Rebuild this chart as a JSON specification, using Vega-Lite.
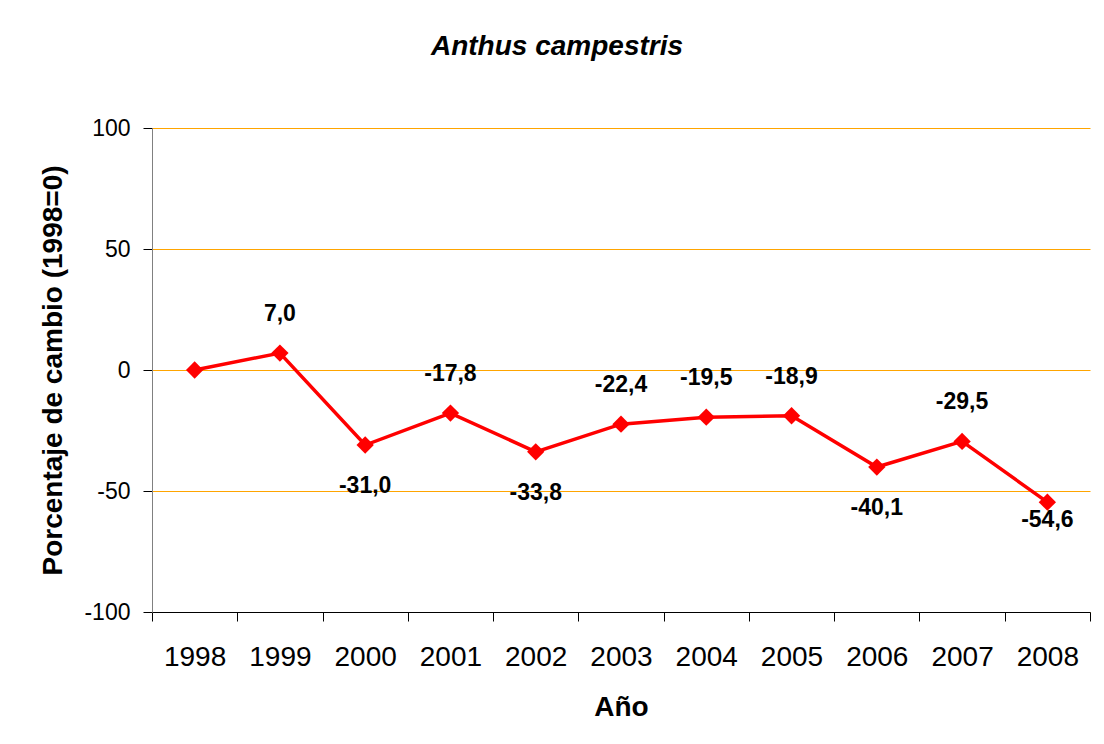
{
  "$schema": "https://vega.github.io/schema/vega-lite/v6.json",
  "width": 938,
  "height": 484,
  "autosize": {"type": "none"},
  "padding": {"left": 152, "top": 128, "right": 14, "bottom": 132},
  "background": "white",
  "config": {
    "font": "Liberation Sans",
    "view": {"stroke": null},
    "locale": {"number": {"decimal": ",", "thousands": ".", "grouping": [3], "currency": ["", " €"], "minus": "-"}}
  },
  "title": {
    "text": "Anthus campestris",
    "fontSize": 28,
    "fontStyle": "italic",
    "fontWeight": "bold",
    "font": "Liberation Sans",
    "color": "black",
    "anchor": "middle",
    "dx": -64,
    "offset": 34,
    "baseline": "alphabetic"
  },
  "data": {
    "values": [
      {"year": 1998, "value": 0.0},
      {"year": 1999, "value": 7.0},
      {"year": 2000, "value": -31.0},
      {"year": 2001, "value": -17.8},
      {"year": 2002, "value": -33.8},
      {"year": 2003, "value": -22.4},
      {"year": 2004, "value": -19.5},
      {"year": 2005, "value": -18.9},
      {"year": 2006, "value": -40.1},
      {"year": 2007, "value": -29.5},
      {"year": 2008, "value": -54.6}
    ]
  },
  "encoding": {
    "x": {
      "field": "year",
      "type": "quantitative",
      "scale": {"domain": [1997.5, 2008.5], "nice": false, "zero": false},
      "axis": {
        "title": "Año",
        "titleFontSize": 28,
        "titleFontWeight": "bold",
        "titleColor": "black",
        "titlePadding": 22,
        "values": [1997.5, 1998.5, 1999.5, 2000.5, 2001.5, 2002.5, 2003.5, 2004.5, 2005.5, 2006.5, 2007.5, 2008.5],
        "labelExpr": "datum.value < 2008 ? format(datum.value + 0.5, 'd') : ''",
        "labelOffset": 42.6,
        "labelFontSize": 28,
        "labelColor": "black",
        "labelPadding": 22,
        "labelFlush": false,
        "labelOverlap": false,
        "labelBound": false,
        "tickSize": 9,
        "tickColor": "black",
        "domainColor": "black",
        "grid": false
      }
    },
    "y": {
      "field": "value",
      "type": "quantitative",
      "scale": {"domain": [-100, 100], "nice": false},
      "axis": {
        "title": "Porcentaje de cambio (1998=0)",
        "titleFontSize": 28,
        "titleFontWeight": "bold",
        "titleColor": "black",
        "titlePadding": 16,
        "values": [-100, -50, 0, 50, 100],
        "labelFontSize": 23,
        "labelColor": "black",
        "labelPadding": 13,
        "labelFlush": false,
        "labelBound": false,
        "tickSize": 9,
        "tickColor": "black",
        "domainColor": "#808080",
        "grid": true,
        "gridColor": "#FFA500",
        "gridOpacity": 1,
        "gridWidth": 1
      }
    }
  },
  "layer": [
    {"mark": {"type": "line", "color": "#FF0000", "strokeWidth": 3.5}},
    {"mark": {"type": "point", "shape": "diamond", "filled": true, "color": "#FF0000", "size": 300, "opacity": 1}},
    {
      "transform": [{"filter": {"field": "year", "oneOf": [1999, 2001, 2003, 2004, 2005, 2007]}}],
      "mark": {"type": "text", "dy": -39, "fontSize": 23, "fontWeight": "bold", "color": "black", "baseline": "middle"},
      "encoding": {"text": {"field": "value", "type": "quantitative", "format": ".1f"}}
    },
    {
      "transform": [{"filter": {"field": "year", "oneOf": [2000, 2002, 2006]}}],
      "mark": {"type": "text", "dy": 41, "fontSize": 23, "fontWeight": "bold", "color": "black", "baseline": "middle"},
      "encoding": {"text": {"field": "value", "type": "quantitative", "format": ".1f"}}
    },
    {
      "transform": [{"filter": {"field": "year", "oneOf": [2008]}}],
      "mark": {"type": "text", "dy": 18, "fontSize": 23, "fontWeight": "bold", "color": "black", "baseline": "middle"},
      "encoding": {"text": {"field": "value", "type": "quantitative", "format": ".1f"}}
    }
  ]
}
